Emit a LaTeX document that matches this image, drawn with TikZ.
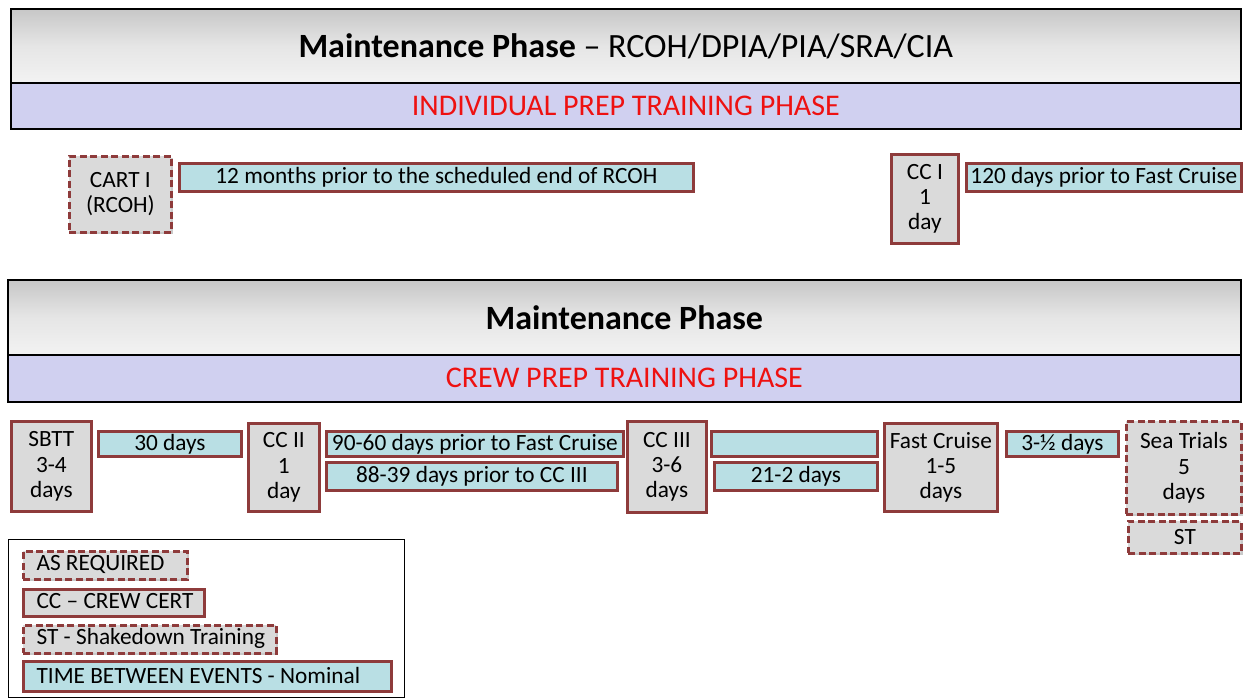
\documentclass[tikz,border=0pt]{standalone}
\usepackage{fontspec}
\setmainfont{Carlito}
\usetikzlibrary{shadows}
\definecolor{brick}{HTML}{8E3B3B}
\definecolor{boxgray}{HTML}{DADADA}
\definecolor{teal}{HTML}{B9DFE4}
\definecolor{lav}{HTML}{D0D0F0}
\definecolor{phasered}{HTML}{EE1111}
\tikzset{
  x=1pt, y=-1pt,
  boxfont/.style={font=\fontsize{23.3}{25.2}\selectfont},
  base/.style={draw=brick, line width=2.8pt, inner sep=0pt, align=center,
    anchor=north west, boxfont,
    drop shadow={shadow xshift=2pt, shadow yshift=-2pt, opacity=0.35, fill=black!60}},
  event/.style={base, fill=boxgray},
  optional/.style={base, fill=boxgray, dash pattern=on 7pt off 3.5pt},
  span/.style={base, fill=teal},
  header/.style={draw=black, line width=1.6pt, anchor=north west, inner sep=0pt,
    top color=black!22, bottom color=black!5, middle color=black!10,
    font=\fontsize{34}{38}\selectfont},
  banner/.style={draw=black, line width=1.6pt, fill=lav, anchor=north west, inner sep=0pt,
    font=\fontsize{30}{34}\selectfont, text=phasered},
  legtext/.style={anchor=west, boxfont},
}
\newcommand{\ev}[6]{% style, name, x1, y1, x2, y2 ... text follows
  \node[#1, minimum width={#5-#3}, minimum height={#6-#4}] (#2) at (#3,#4)}
\begin{document}
\begin{tikzpicture}
\useasboundingbox (0,0) rectangle (1243,698);
\fill[white] (0,0) rectangle (1243,698);

% upper phase header
\node[header, minimum width=1230, minimum height=74] (hdrA) at (10,8)
  {\textbf{Maintenance Phase} -- RCOH/DPIA/PIA/SRA/CIA};
\node[banner, minimum width=1230, minimum height=46] (bannerA) at (10,82)
  {INDIVIDUAL PREP TRAINING PHASE};

% lower phase header
\node[header, minimum width=1233, minimum height=75] (hdrB) at (7,279)
  {\textbf{Maintenance Phase}};
\node[banner, minimum width=1233, minimum height=47] (bannerB) at (7,354)
  {CREW PREP TRAINING PHASE};

% individual prep events
\ev{optional}{cart}{68}{155}{170}{231} {CART I\\(RCOH)};
\ev{span}{twelve}{178}{162}{692}{190} {12 months prior to the scheduled end of RCOH};
\ev{event}{cci}{890}{153}{957}{242} {CC I\\1\\day};
\ev{span}{onetwenty}{965}{162}{1240}{190} {120 days prior to Fast Cruise};

% crew prep events
\ev{event}{sbtt}{10}{420}{90}{510} {SBTT\\3-4\\days};
\ev{span}{thirty}{97}{430}{240}{455} {30 days};
\ev{event}{ccii}{247}{422}{318}{510} {CC II\\1\\day};
\ev{span}{ninety}{325}{430}{622}{455} {90-60 days prior to Fast Cruise};
\ev{span}{eighty}{325}{461}{616}{489} {88-39 days prior to CC III};
\ev{event}{cciii}{626}{420}{705}{511} {CC III\\3-6\\days};
\ev{span}{blank}{710}{430}{876}{455} {};
\ev{span}{twentyone}{713}{461}{876}{489} {21-2 days};
\ev{event}{fast}{883}{422}{996}{510} {Fast Cruise\\1-5\\days};
\ev{span}{threehalf}{1005}{430}{1117}{455} {3-½ days};
\ev{optional}{sea}{1125}{420}{1240}{513} {Sea Trials\\5\\days};
\ev{optional}{st}{1127}{520}{1240}{552} {ST};

% legend
\node[draw=black, line width=1.2pt, anchor=north west, minimum width=396,
  minimum height=158, inner sep=0pt] (legend) at (8,539) {};
\ev{optional}{lgA}{22}{550}{186}{578} {};
\node[legtext] (lgAt) at (33,564) {AS REQUIRED};
\ev{event}{lgB}{22}{588}{203}{615} {};
\node[legtext] (lgBt) at (33,601.5) {CC -- CREW CERT};
\ev{optional}{lgC}{22}{624}{275}{652} {};
\node[legtext] (lgCt) at (33,638) {ST - Shakedown Training};
\ev{span}{lgD}{22}{660}{390}{690} {};
\node[legtext] (lgDt) at (33,675) {TIME BETWEEN EVENTS - Nominal};
\end{tikzpicture}
\end{document}
